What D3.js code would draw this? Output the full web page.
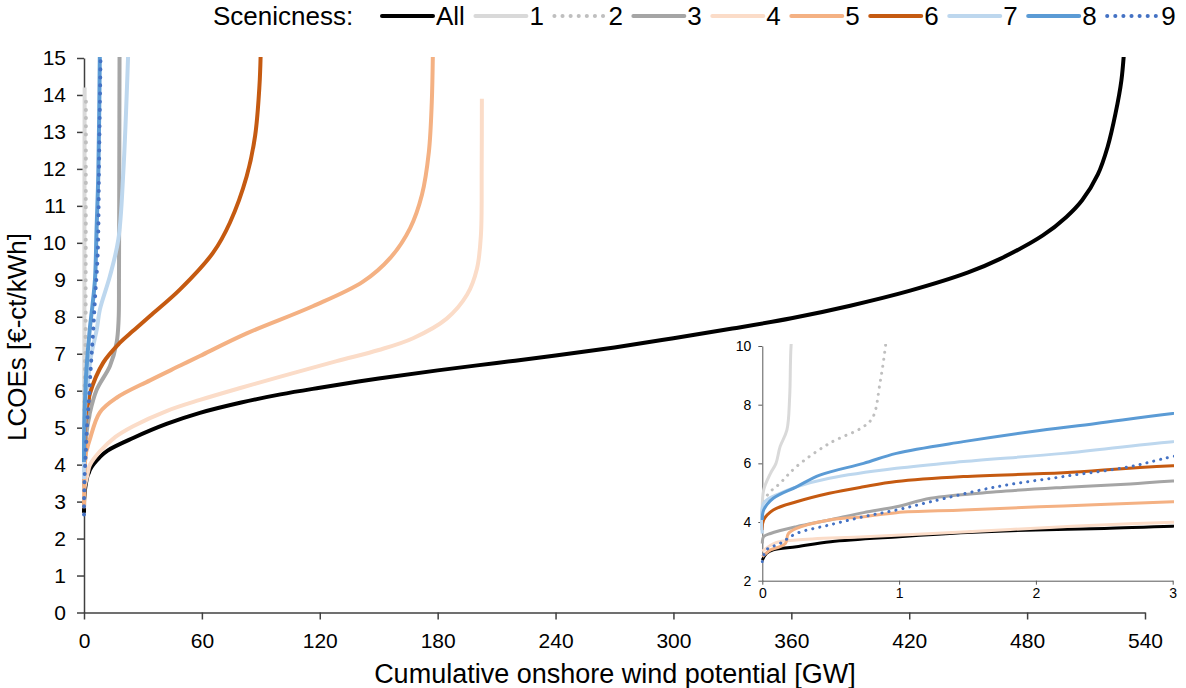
<!DOCTYPE html>
<html><head><meta charset="utf-8">
<script src="https://cdn.jsdelivr.net/npm/d3@7"></script>
<style>body{margin:0;background:#fff}svg{display:block;font-family:"Liberation Sans",Arial,sans-serif}</style>
</head><body><svg id="c" width="1186" height="688"></svg>
<script>
// ---- data ----
const categories = ["All","1","2","3","4","5","6","7","8","9"];
const colors = ["#000000","#d9d9d9","#bfbfbf","#a5a5a5","#fbdcc8","#f4b183","#c55a11","#bdd7ee","#5b9bd5","#4472c4"];
const dotted = [false,false,true,false,false,false,false,false,false,true];
const xTicksMain = [0,60,120,180,240,300,360,420,480,540];
const yTicksMain = d3.range(0,16);
const xTicksInset = [0,1,2,3];
const yTicksInset = [2,4,6,8,10];

const sAll = [[0,2.7],[0.03,2.93],[0.08,3.05],[0.25,3.16],[0.5,3.33],[1,3.5],[1.5,3.64],[2,3.73],[2.5,3.78],[3,3.86],[5,4.02],[8,4.2],[12,4.38],[25,4.72],[42,5.1],[59,5.4],[80,5.68],[100,5.9],[120,6.08],[150,6.33],[180,6.55],[210,6.75],[240,6.95],[270,7.17],[300,7.42],[330,7.68],[360,7.96],[390,8.3],[420,8.7],[450,9.2],[466,9.56],[488,10.2],[500,10.7],[508,11.15],[516,11.85],[521,12.6],[525,13.5],[528,14.4],[529.5,15.3]];
const s1 = [[0,4.18],[0.01,5.09],[0.06,5.66],[0.1,6.0],[0.13,6.57],[0.18,7.14],[0.2,8.27],[0.21,9.98],[0.24,11.5],[0.28,13.0],[0.33,14.2]];
const s2 = [[0,3.73],[0.03,4.86],[0.13,5.32],[0.25,5.89],[0.49,6.68],[0.74,7.25],[0.81,7.59],[0.86,8.73],[0.9,9.98],[0.93,11.5],[0.96,12.8],[0.98,13.9]];
const s3 = [[0,3.27],[0.01,3.5],[0.06,3.61],[0.25,3.84],[0.49,4.07],[0.74,4.32],[0.98,4.52],[1.23,4.81],[1.71,5.03],[2.2,5.18],[2.69,5.3],[3,5.4],[6.5,6.03],[13.2,6.67],[16.6,7.3],[17.6,7.9],[17.8,9.0],[17.95,12.0],[18.1,15.3]];
const s4 = [[0,3.0],[0.1,3.3],[0.25,3.39],[0.75,3.5],[1.5,3.67],[2.2,3.84],[3,3.99],[8,4.35],[16,4.75],[25,5.04],[42,5.45],[59,5.75],[80,6.08],[100,6.38],[128.6,6.8],[150,7.1],[167.5,7.42],[184.6,7.95],[195,8.6],[200,9.3],[202,10.2],[202.4,12.0],[202.5,13.9]];
const s5 = [[0,2.82],[0.06,3.05],[0.13,3.16],[0.17,3.27],[0.19,3.6],[0.25,3.78],[0.49,4.07],[0.74,4.18],[0.98,4.32],[1.47,4.41],[2.2,4.55],[3,4.69],[8,5.41],[16.6,5.81],[33.6,6.28],[49,6.68],[59,6.94],[82.8,7.55],[116.7,8.29],[142,8.95],[156,9.6],[166,10.4],[172,11.3],[175.5,12.45],[177,13.8],[177.6,15.3]];
const s6 = [[0,3.73],[0.01,4.07],[0.08,4.41],[0.25,4.69],[0.49,4.98],[0.74,5.2],[0.98,5.38],[1.47,5.55],[2.2,5.68],[3,5.92],[9.8,6.76],[18.3,7.3],[25,7.62],[33.6,8.02],[48.9,8.74],[65.8,9.74],[74.3,10.55],[82.8,11.8],[87.1,12.9],[89.3,14.25],[90,15.3]];
const s7 = [[0,3.61],[0.01,4.64],[0.13,4.98],[0.25,5.2],[0.49,5.49],[0.98,5.83],[1.47,6.06],[2.2,6.34],[3,6.74],[3.9,7.03],[6.5,7.66],[8.1,8.2],[13.2,9.1],[17.5,10.1],[20,11.9],[22.6,15.3]];
const s8 = [[0,4.07],[0.01,4.41],[0.08,4.81],[0.25,5.2],[0.42,5.6],[0.74,6.0],[0.98,6.34],[1.47,6.74],[1.96,7.08],[2.44,7.36],[3,7.7],[4.3,8.3],[5.6,9.02],[6.4,10.37],[7.3,11.9],[8.1,15.3]];
const s9 = [[0,2.65],[0.03,3.05],[0.13,3.27],[0.25,3.61],[0.49,3.9],[0.74,4.18],[0.98,4.41],[1.23,4.69],[1.71,5.2],[2.2,5.55],[2.69,5.89],[3,6.23],[3.9,7.0],[4.7,7.66],[5.6,8.5],[6.8,9.5],[7.3,10.37],[7.6,11.9],[8.5,15.3]];
const seriesData = [sAll,s1,s2,s3,s4,s5,s6,s7,s8,s9];

// ---- drawing ----
const svg = d3.select("#c");
const FONT = '"Liberation Sans",Arial,sans-serif';
const axisCol = "#404040";
const curve = d3.curveCatmullRom.alpha(0.5);

// main chart
const x = d3.scaleLinear().domain([0,540]).range([84,1145]);
const y = d3.scaleLinear().domain([0,15]).range([612.5,58]);

svg.append("clipPath").attr("id","mainclip").append("rect")
  .attr("x",80).attr("y",57).attr("width",1110).attr("height",560);

const yAx = svg.append("g").attr("transform","translate(84,0)")
  .call(d3.axisLeft(y).tickValues(yTicksMain).tickSize(7).tickPadding(11).tickSizeOuter(0));
const xAx = svg.append("g").attr("transform","translate(0,612.5)")
  .call(d3.axisBottom(x).tickValues(xTicksMain).tickSize(7).tickPadding(14).tickSizeOuter(0));
[yAx,xAx].forEach(g=>{
  g.selectAll("path,line").attr("stroke",axisCol).attr("stroke-width",1.5);
  g.selectAll("text").attr("font-family",FONT).attr("font-size",21).attr("fill","#000");
});
xAx.selectAll("text").attr("dy","0.71em");

const line = d3.line().x(d=>x(d[0])).y(d=>y(d[1])).curve(curve);
const mainG = svg.append("g").attr("clip-path","url(#mainclip)");
seriesData.forEach((s,i)=>{
  mainG.append("path").attr("d",line(s)).attr("fill","none")
    .attr("stroke",colors[i]).attr("stroke-width",4)
    .attr("stroke-linecap", dotted[i]?"round":"butt")
    .attr("stroke-dasharray", dotted[i]?"0.1,8":null);
});

svg.append("text").attr("transform","translate(26,337) rotate(-90)")
  .attr("text-anchor","middle").attr("font-family",FONT).attr("font-size",26)
  .text("LCOEs [€-ct/kWh]");
svg.append("text").attr("x",615).attr("y",683)
  .attr("text-anchor","middle").attr("font-family",FONT).attr("font-size",27)
  .text("Cumulative onshore wind potential [GW]");

// inset chart
const xi = d3.scaleLinear().domain([0,3]).range([762.3,1172.7]);
const yi = d3.scaleLinear().domain([2,10]).range([580.7,346]);
svg.append("clipPath").attr("id","insetclip").append("rect")
  .attr("x",760).attr("y",344).attr("width",414).attr("height",238);
const yAxI = svg.append("g").attr("transform","translate(762.3,0)")
  .call(d3.axisLeft(yi).tickValues(yTicksInset).tickFormat(d3.format("d")).tickSize(4).tickPadding(7).tickSizeOuter(0));
const xAxI = svg.append("g").attr("transform","translate(0,580.7)")
  .call(d3.axisBottom(xi).tickValues(xTicksInset).tickFormat(d3.format("d")).tickSize(4).tickPadding(3).tickSizeOuter(0));
[yAxI,xAxI].forEach(g=>{
  g.selectAll("path,line").attr("stroke","#595959").attr("stroke-width",1);
  g.selectAll("text").attr("font-family",FONT).attr("font-size",14).attr("fill","#000");
});
const linei = d3.line().x(d=>xi(d[0])).y(d=>yi(d[1])).curve(curve);
const insetG = svg.append("g").attr("clip-path","url(#insetclip)");
seriesData.forEach((s,i)=>{
  insetG.append("path").attr("d",linei(s)).attr("fill","none")
    .attr("stroke",colors[i]).attr("stroke-width",3)
    .attr("stroke-linecap", dotted[i]?"round":"butt")
    .attr("stroke-dasharray", dotted[i]?"0.1,7":null);
});

// legend
const lg = svg.append("g");
lg.append("text").attr("x",213).attr("y",25).attr("font-family",FONT).attr("font-size",26).text("Scenicness:");
let lx = 382;
categories.forEach((c,i)=>{
  lg.append("line").attr("x1",lx).attr("x2",lx+51).attr("y1",16).attr("y2",16)
    .attr("stroke",colors[i]).attr("stroke-width",4)
    .attr("stroke-linecap","round")
    .attr("stroke-dasharray", dotted[i]?"0.1,8":null);
  const t = lg.append("text").attr("x",lx+54).attr("y",25).attr("font-family",FONT).attr("font-size",26).text(c);
  lx = lx + 54 + t.node().getComputedTextLength() + 10.5;
});
</script></body></html>
